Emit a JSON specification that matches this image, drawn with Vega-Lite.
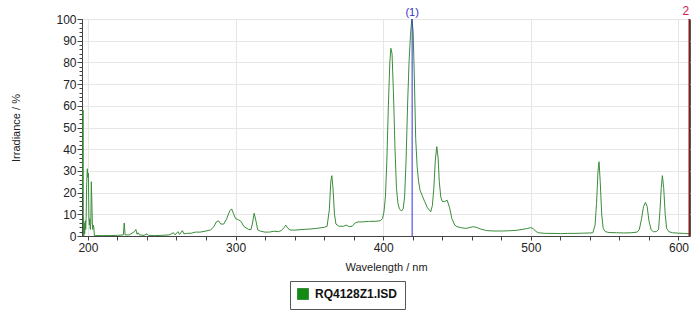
{
  "$schema": "https://vega.github.io/schema/vega-lite/v6.json",
  "width": 608,
  "height": 217,
  "autosize": {"type": "none"},
  "padding": {"left": 82, "top": 19, "right": 10, "bottom": 86},
  "background": "white",
  "config": {
    "view": {"stroke": "#555555", "strokeWidth": 1},
    "axis": {
      "labelFont": "Liberation Sans",
      "labelFontSize": 12,
      "labelColor": "#222222",
      "titleFont": "Liberation Sans",
      "titleFontSize": 11,
      "titleFontWeight": "normal",
      "titleColor": "#222222",
      "domainColor": "#444444",
      "tickColor": "#444444"
    },
    "text": {"font": "Liberation Sans"}
  },
  "datasets": {
    "spectrum": [
      {"wl":196.2,"irr":20},{"wl":196.45,"irr":23},{"wl":196.7,"irr":58},{"wl":196.9,"irr":10},{"wl":197.1,"irr":0},
      {"wl":197.3,"irr":0},{"wl":197.5,"irr":6},{"wl":197.8,"irr":1},{"wl":198.2,"irr":7},{"wl":198.5,"irr":3},
      {"wl":198.8,"irr":8},{"wl":199.2,"irr":25},{"wl":199.6,"irr":31},{"wl":200.0,"irr":27},{"wl":200.3,"irr":29},
      {"wl":200.7,"irr":8},{"wl":201.0,"irr":5},{"wl":201.3,"irr":8},{"wl":201.6,"irr":3},{"wl":202.0,"irr":6},
      {"wl":202.3,"irr":25},{"wl":202.6,"irr":18},{"wl":203.0,"irr":6},{"wl":203.3,"irr":3},{"wl":203.6,"irr":5},
      {"wl":204.0,"irr":4},{"wl":204.4,"irr":0},{"wl":205,"irr":0.2},{"wl":210,"irr":0.2},{"wl":215,"irr":0.2},
      {"wl":220,"irr":0.3},{"wl":224,"irr":0.5},{"wl":224.6,"irr":6},{"wl":225.2,"irr":0.5},{"wl":228,"irr":0.5},
      {"wl":231.5,"irr":2},{"wl":232.5,"irr":3},{"wl":233.3,"irr":0.8},{"wl":234,"irr":1.5},{"wl":235,"irr":0.5},
      {"wl":238,"irr":0.3},{"wl":240,"irr":1},{"wl":241,"irr":0.3},{"wl":245,"irr":0.2},{"wl":250,"irr":0.3},
      {"wl":255,"irr":0.5},{"wl":258,"irr":1.5},{"wl":259,"irr":0.5},{"wl":261,"irr":2},{"wl":262,"irr":0.7},
      {"wl":264,"irr":2.5},{"wl":265,"irr":1},{"wl":267,"irr":1.2},{"wl":270,"irr":1.3},{"wl":273,"irr":1.8},
      {"wl":276,"irr":1.8},{"wl":280,"irr":2.3},{"wl":283,"irr":2.8},{"wl":285,"irr":4},{"wl":287,"irr":6.5},
      {"wl":288.5,"irr":7},{"wl":290,"irr":5.5},{"wl":292,"irr":5.5},{"wl":294,"irr":8},{"wl":296,"irr":11.5},
      {"wl":297.3,"irr":12.5},{"wl":298.5,"irr":10.5},{"wl":300,"irr":8},{"wl":302,"irr":7.5},{"wl":304,"irr":6.5},
      {"wl":305.5,"irr":4.5},{"wl":307,"irr":3.8},{"wl":309,"irr":3},{"wl":310.5,"irr":3},{"wl":311.5,"irr":6},
      {"wl":312.6,"irr":10.5},{"wl":313.8,"irr":7},{"wl":315,"irr":2.8},{"wl":317,"irr":2.2},{"wl":320,"irr":1.8},
      {"wl":323,"irr":1.8},{"wl":326,"irr":2.2},{"wl":329,"irr":2},{"wl":331,"irr":2.5},{"wl":333,"irr":4},
      {"wl":334,"irr":5},{"wl":335.5,"irr":3.5},{"wl":337,"irr":2.8},{"wl":340,"irr":2.7},{"wl":345,"irr":3},
      {"wl":350,"irr":3.2},{"wl":355,"irr":3.5},{"wl":360,"irr":4},{"wl":362,"irr":4.5},{"wl":363.5,"irr":12},
      {"wl":364.5,"irr":25},{"wl":365.2,"irr":27.8},{"wl":366,"irr":22},{"wl":367,"irr":10},{"wl":368,"irr":5.5},
      {"wl":370,"irr":4.5},{"wl":373,"irr":4.5},{"wl":375,"irr":5},{"wl":377,"irr":4.3},{"wl":379,"irr":4.5},
      {"wl":381,"irr":6},{"wl":383,"irr":6.5},{"wl":386,"irr":6.5},{"wl":390,"irr":6.7},{"wl":395,"irr":6.8},
      {"wl":398,"irr":7},{"wl":399.5,"irr":8},{"wl":400.5,"irr":11},{"wl":401.5,"irr":18},{"wl":402.5,"irr":35},
      {"wl":403.5,"irr":60},{"wl":404.5,"irr":80},{"wl":405.2,"irr":86.5},{"wl":406,"irr":84},{"wl":407,"irr":65},
      {"wl":408,"irr":40},{"wl":409,"irr":22},{"wl":410,"irr":15},{"wl":411,"irr":12.5},{"wl":412.4,"irr":11.5},
      {"wl":413.5,"irr":12.5},{"wl":414.5,"irr":18},{"wl":415.5,"irr":35},{"wl":416.5,"irr":60},{"wl":417.5,"irr":80},
      {"wl":418.5,"irr":93},{"wl":419.4,"irr":100},{"wl":420.3,"irr":94},{"wl":421.2,"irr":70},{"wl":422,"irr":45},
      {"wl":423,"irr":32},{"wl":424,"irr":25},{"wl":425,"irr":21},{"wl":426.5,"irr":18.5},{"wl":428,"irr":16},
      {"wl":430,"irr":13},{"wl":432.2,"irr":11.2},{"wl":433.3,"irr":14},{"wl":434.3,"irr":22},{"wl":435.3,"irr":35},
      {"wl":436.3,"irr":41.2},{"wl":437.2,"irr":36},{"wl":438,"irr":25},{"wl":439,"irr":18},{"wl":440,"irr":16},
      {"wl":441.5,"irr":15.8},{"wl":443.3,"irr":16.5},{"wl":445,"irr":13},{"wl":446.5,"irr":8},{"wl":448.5,"irr":5},
      {"wl":450,"irr":4.3},{"wl":453,"irr":3.8},{"wl":456,"irr":3.5},{"wl":458,"irr":3.8},{"wl":461,"irr":4.3},
      {"wl":463,"irr":4},{"wl":466,"irr":3.2},{"wl":470,"irr":2.5},{"wl":475,"irr":2.3},{"wl":480,"irr":2.3},
      {"wl":485,"irr":2.4},{"wl":490,"irr":2.6},{"wl":494,"irr":3},{"wl":497,"irr":3.4},{"wl":499.7,"irr":3.8},
      {"wl":501.5,"irr":3.5},{"wl":503,"irr":2.3},{"wl":505,"irr":1.5},{"wl":510,"irr":1.2},{"wl":515,"irr":1.2},
      {"wl":520,"irr":1.1},{"wl":525,"irr":1.2},{"wl":530,"irr":1.2},{"wl":535,"irr":1.3},{"wl":540,"irr":1.4},
      {"wl":542,"irr":1.5},{"wl":543.5,"irr":5},{"wl":544.5,"irr":15},{"wl":545.5,"irr":30},{"wl":546.2,"irr":34.2},
      {"wl":547,"irr":25},{"wl":548,"irr":10},{"wl":549,"irr":3.5},{"wl":550.5,"irr":2},{"wl":553,"irr":1.6},
      {"wl":558,"irr":1.5},{"wl":563,"irr":1.4},{"wl":568,"irr":1.5},{"wl":572,"irr":1.8},{"wl":573.5,"irr":3},
      {"wl":575,"irr":8},{"wl":576.3,"irr":13.5},{"wl":577.6,"irr":15.5},{"wl":578.8,"irr":13.5},{"wl":580,"irr":7},
      {"wl":581.5,"irr":2.8},{"wl":583,"irr":2},{"wl":585,"irr":2},{"wl":586.5,"irr":3},{"wl":587.5,"irr":12},
      {"wl":588.3,"irr":22},{"wl":589.1,"irr":27.8},{"wl":590,"irr":22},{"wl":591,"irr":10},{"wl":592,"irr":3.5},
      {"wl":593.5,"irr":2},{"wl":596,"irr":1.5},{"wl":600,"irr":1.3},{"wl":604,"irr":1.2},{"wl":607.8,"irr":1}
    ]
  },
  "layer": [
    {
      "data": {"name": "spectrum"},
      "mark": {"type": "line", "strokeWidth": 1, "clip": true, "interpolate": "linear"},
      "encoding": {
        "x": {
          "field": "wl", "type": "quantitative",
          "scale": {"domain": [196, 607.8], "nice": false, "zero": false},
          "axis": {
            "title": "Wavelength / nm",
            "titlePadding": 8,
            "values": [200,220,240,260,280,300,320,340,360,380,400,420,440,460,480,500,520,540,560,580,600],
            "tickCount": 500,
            "format": "d",
            "labelExpr": "datum.value % 100 === 0 ? datum.label : ''",
            "labelOverlap": false,
            "labelFlush": false,
            "tickSize": 4,
            "labelPadding": 2,
            "grid": true,
            "gridColor": "#e6e6e6",
            "gridOpacity": {"condition": {"test": "datum.value % 100 === 0", "value": 1}, "value": 0}
          }
        },
        "y": {
          "field": "irr", "type": "quantitative",
          "scale": {"domain": [0, 100], "nice": false},
          "axis": {
            "title": "Irradiance / %",
            "titlePadding": 34,
            "values": [0,2,4,6,8,10,12,14,16,18,20,22,24,26,28,30,32,34,36,38,40,42,44,46,48,50,52,54,56,58,60,62,64,66,68,70,72,74,76,78,80,82,84,86,88,90,92,94,96,98,100],
            "tickCount": 500,
            "format": "d",
            "labelExpr": "datum.value % 10 === 0 ? datum.label : ''",
            "labelOverlap": false,
            "labelFlush": false,
            "tickSize": {"condition": {"test": "datum.value % 10 === 0", "value": 5}, "value": 3},
            "labelPadding": 1,
            "grid": true,
            "gridColor": "#e6e6e6",
            "gridOpacity": {"condition": {"test": "datum.value % 10 === 0", "value": 1}, "value": 0}
          }
        },
        "color": {
          "datum": "RQ4128Z1.ISD",
          "type": "nominal",
          "scale": {"range": ["#3a8d3a"]},
          "legend": {
            "title": null,
            "orient": "none",
            "legendX": 208,
            "legendY": 262,
            "strokeColor": "#555555",
            "padding": 7,
            "labelFont": "Liberation Sans",
            "labelFontSize": 12,
            "labelFontWeight": "bold",
            "labelColor": "#111111",
            "labelOffset": 6,
            "symbolType": "square",
            "symbolSize": 121,
            "encode": {"symbols": {"update": {"fill": {"value": "#138a13"}, "stroke": {"value": "#0b6b0b"}, "strokeWidth": {"value": 1}}}}
          }
        }
      }
    },
    {
      "data": {"values": [{"wl": 419.6, "label": "(1)"}]},
      "mark": {"type": "rule", "color": "#3030e0", "strokeWidth": 1},
      "encoding": {"x": {"field": "wl", "type": "quantitative"}}
    },
    {
      "data": {"values": [{"wl": 419.6, "label": "(1)"}]},
      "mark": {"type": "text", "color": "#3030c8", "fontSize": 11, "baseline": "bottom", "dy": -1, "align": "center"},
      "encoding": {"x": {"field": "wl", "type": "quantitative"}, "y": {"datum": 100}, "text": {"field": "label"}}
    },
    {
      "data": {"values": [{"wl": 607.3, "label": "2"}]},
      "mark": {"type": "rule", "color": "#8b1a1a", "strokeWidth": 1.5},
      "encoding": {"x": {"field": "wl", "type": "quantitative"}}
    },
    {
      "data": {"values": [{"wl": 607.3, "label": "2"}]},
      "mark": {"type": "text", "color": "#d82050", "fontSize": 12, "baseline": "bottom", "dy": -1, "align": "right", "dx": 0},
      "encoding": {"x": {"field": "wl", "type": "quantitative"}, "y": {"datum": 100}, "text": {"field": "label"}}
    }
  ]
}
